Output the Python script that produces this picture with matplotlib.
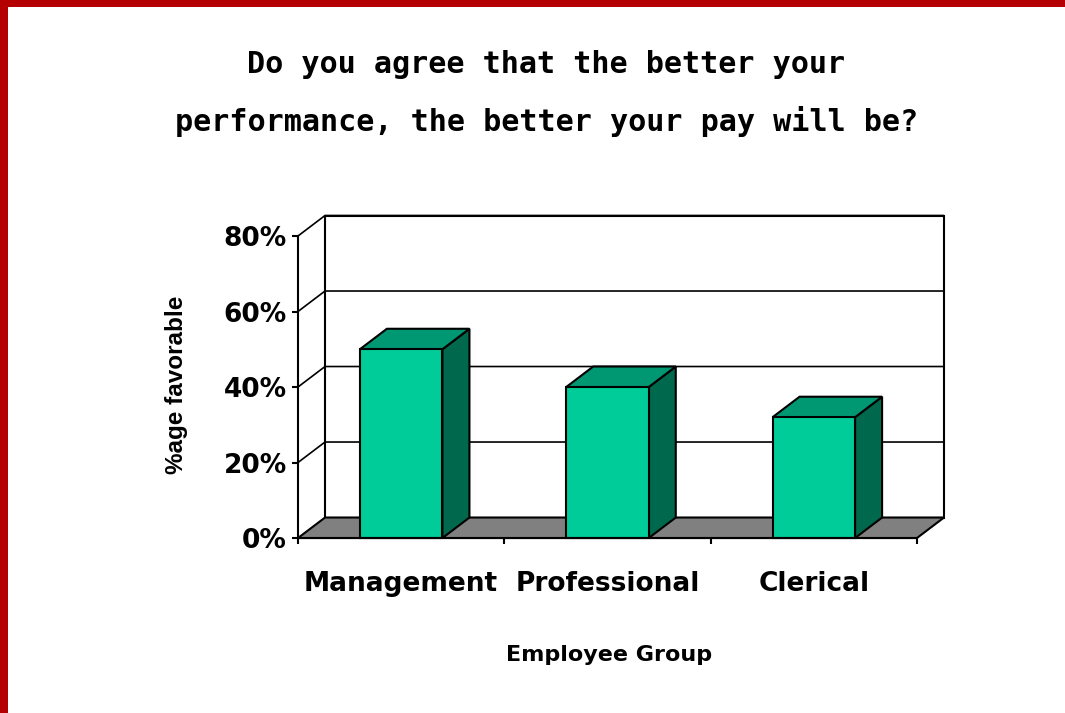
import matplotlib.pyplot as plt
from matplotlib.patches import Polygon, Rectangle

# data
categories = ["Management", "Professional", "Clerical"]
favorable = [50, 40, 32]          # % favorable
y_ticks = [0, 20, 40, 60, 80]
y_tick_labels = ["0%", "20%", "40%", "60%", "80%"]

title = "Do you agree that the better your\nperformance, the better your pay will be?"
x_label = "Employee Group"
y_label = "%age favorable"

# 3D look (offset of the back plane, in data units)
DX, DY = 0.131, 5.43
BAR_W = 0.4
FRONT = "#00CC99"
TOP = "#009873"
SIDE = "#00684D"
FLOOR = "#808080"
BORDER = "#B40000"

fig = plt.figure(figsize=(10.65, 7.13), dpi=100)
fig.patch.set_facecolor("white")

# red frame on top and left
fig.patches.append(Rectangle((0, 1 - 7 / 713), 1, 7 / 713, transform=fig.transFigure,
                             fc=BORDER, ec="none", zorder=0))
fig.patches.append(Rectangle((0, 0), 8 / 1065, 1, transform=fig.transFigure,
                             fc=BORDER, ec="none", zorder=0))

ax = fig.add_axes([0.2798, 0.2454, 0.5812, 0.4236])
ax.patch.set_visible(False)
x0, x1 = -0.5, len(categories) - 0.5
ymax = y_ticks[-1]
ax.set_xlim(x0, x1)
ax.set_ylim(0, ymax)

# back wall
ax.add_patch(Polygon([(x0 + DX, DY), (x1 + DX, DY), (x1 + DX, ymax + DY), (x0 + DX, ymax + DY)],
                     closed=True, fc="white", ec="black", lw=1.5, clip_on=False, zorder=1))
# gridlines on side wall and back wall
for t in y_ticks[1:]:
    ax.plot([x0, x0 + DX, x1 + DX], [t, t + DY, t + DY], color="black", lw=1.2,
            clip_on=False, zorder=2, solid_capstyle="butt")

# floor
ax.add_patch(Polygon([(x0, 0), (x1, 0), (x1 + DX, DY), (x0 + DX, DY)], closed=True,
                     fc=FLOOR, ec="black", lw=1.5, clip_on=False, zorder=3))

# bars
for i, v in enumerate(favorable):
    l, r = i - BAR_W / 2, i + BAR_W / 2
    ax.add_patch(Polygon([(r, 0), (r + DX, DY), (r + DX, v + DY), (r, v)], closed=True,
                         fc=SIDE, ec="black", lw=1.5, clip_on=False, zorder=4))
    ax.add_patch(Polygon([(l, v), (r, v), (r + DX, v + DY), (l + DX, v + DY)], closed=True,
                         fc=TOP, ec="black", lw=1.5, clip_on=False, zorder=4))
    ax.add_patch(Rectangle((l, 0), BAR_W, v, fc=FRONT, ec="black", lw=1.5,
                           clip_on=False, zorder=4))

for s in ["top", "right"]:
    ax.spines[s].set_visible(False)
for s in ["left", "bottom"]:
    ax.spines[s].set_linewidth(1.5)
    ax.spines[s].set_zorder(5)

ax.set_yticks(y_ticks)
ax.set_yticklabels(y_tick_labels, fontsize=19, fontweight="bold", family="DejaVu Sans")
ax.tick_params(axis="y", direction="out", length=4.5, width=1.5, pad=3.5)

ax.set_xticks([x0 + k for k in range(len(categories) + 1)])
ax.set_xticklabels([])
ax.set_xticks(range(len(categories)), minor=True)
ax.set_xticklabels(categories, minor=True, fontsize=19, fontweight="bold", family="DejaVu Sans")
ax.tick_params(axis="x", which="major", direction="out", length=4.5, width=1.5)
ax.tick_params(axis="x", which="minor", length=0, pad=24)

fig.text(0.513, 0.869, title, ha="center", va="center", fontsize=21.7, fontweight="bold",
         family="DejaVu Sans Mono", linespacing=2.08)
fig.text(0.572, 0.0814, x_label, ha="center", va="center", fontsize=16, fontweight="bold",
         family="DejaVu Sans")
fig.text(0.166, 0.46, y_label, ha="center", va="center", rotation=90, fontsize=17.5,
         fontweight="bold", family="Liberation Sans")

fig.savefig("out.png", dpi=100)
